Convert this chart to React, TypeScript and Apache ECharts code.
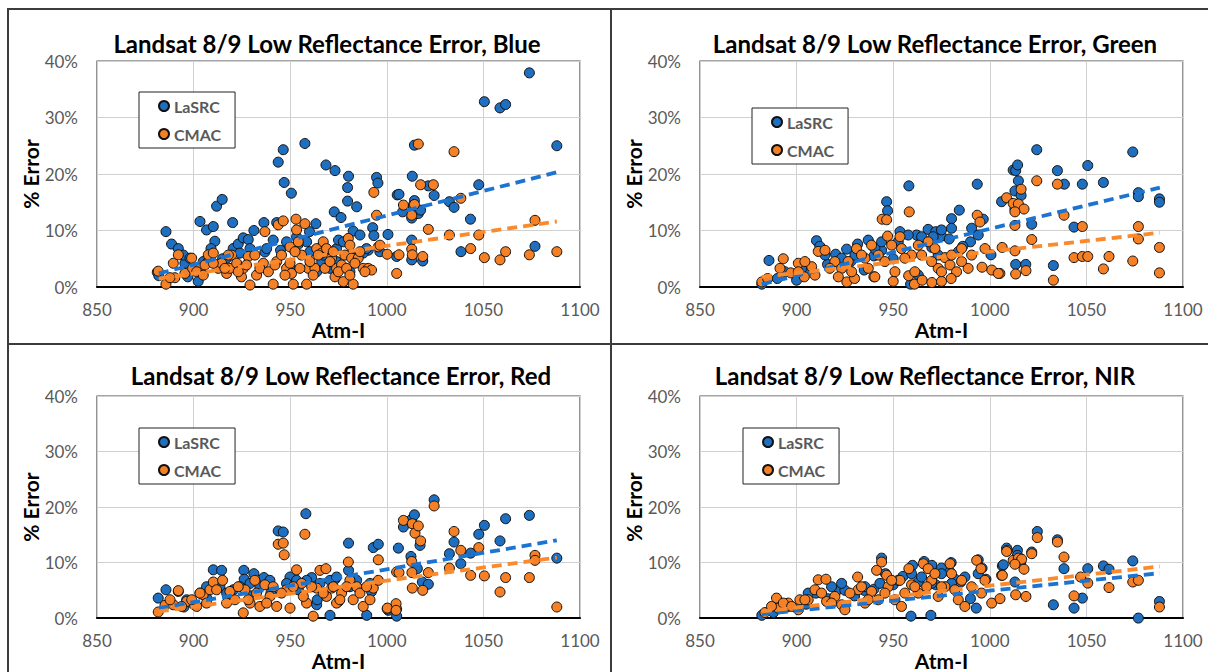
import React, { useEffect, useRef } from "react";
import * as echarts from "echarts";

// ---------- data (x = Atm-I, y = % error) ----------
const xTicks = [850, 900, 950, 1000, 1050, 1100];
const yTicks = [0, 10, 20, 30, 40];

const blueLasrc: number[][] = [
  [881.2,2.6],[882,2],[885.7,9.8],[888.6,7.6],[892.1,6.8],[895.5,4.2],[897,1.8],[902.4,1.0],[903.3,11.6],[906.7,10.1],
  [910.2,10.7],[911,8.1],[909,6.8],[911.9,14.3],[914.8,15.5],[920.2,11.4],[920.5,6.8],[923.1,7.6],[925.7,8.7],[928.3,8.4],
  [931.2,10],[936.4,11.4],[936.9,6.2],[941.2,8.3],[943.8,22.1],[946.4,24.3],[946.9,18.5],[950.6,16.6],[943,11.4],[957.6,25.4],
  [958.5,8.0],[954,7.5],[963.3,11.2],[968.5,21.6],[973.2,20.6],[972.8,13.3],[976.3,12.3],[980.2,19.6],[979.7,17.6],[979.7,15.2],
  [984.4,14.2],[982.6,9.9],[994.7,19.4],[995.4,18.4],[992.7,10.5],[993.3,9.1],[1000.6,9.3],[1005.4,16.3],[996.4,6.25],[990.4,6.5],
  [963.7,2.7],[966.3,4.5],[970.6,3.3],[980.9,2.7],[987.8,6.0],[974,6.8],[915,5.0],[905,4.5],[930,5.8],[945,6.5],
  [950,3.5],[960,9.8],[966,6.8],[975,8.3],[985,5.5],[1006.3,16.4],[1008.2,13.3],[1013.2,19.6],[1014.3,25.1],[1014.3,15.3],
  [1013.8,14.0],[1012.9,12.2],[1016.3,13.0],[1017.5,13.6],[1021.5,17.9],[1024.5,16.2],[1032.4,15.1],[1034.8,14.1],[1043.3,12.0],[1047.6,18.1],
  [1050.5,32.8],[1058.6,31.7],[1061.5,32.3],[1073.8,37.9],[1076.7,7.2],[1088,25.0],[1038.4,6.25],[1012.9,8.3],[1012.9,4.8],[1018.6,4.6],
  [1005.1,5.4],[894.7,5.65],[898.1,5.1],[907.6,4.5],[917.1,5.1],[924,6.0],[929.2,6.8],[937.8,6.8],[948.1,8.0],[951.6,6.8],
  [953.3,8.9],[960.2,6.25],[967.1,5.65],[974,4.5],[977.5,8.0],[980.9,5.65],[986.1,9.2],[989.5,6.8]
];
const blueCmac: number[][] = [
  [881.7,2.8],[885.7,0.5],[890.3,1.65],[889.5,4.2],[892.1,5.7],[895.5,2.4],[899,5.1],[899.5,3.3],[903.3,3.3],[905.9,3.9],
  [907.6,5.7],[910.2,6.0],[912.8,3.3],[914.5,4.2],[917.1,2.4],[918.8,3.3],[919.7,5.65],[922.3,4.2],[924.8,1.8],[925.7,3.3],
  [928.3,5.4],[931.7,5.65],[932.6,2.1],[936.1,4.2],[936.9,9.8],[941.2,0.5],[943,4.5],[943.8,11],[946.4,11.7],[948.1,3.3],
  [949.9,7.1],[950.7,2.4],[951.6,0.5],[953,12],[953.3,10.1],[954.2,8.0],[955.9,5.65],[957.6,11.2],[958.5,0.5],[959.4,3.3],
  [962.8,3.3],[963.7,6.8],[966.3,6.0],[967.1,8.0],[968.8,6.8],[971.4,5.1],[973.2,1.8],[974,3.3],[976.6,3.9],[977.5,0.95],
  [978.3,5.65],[980.1,8.6],[980.9,7.4],[981.8,5.1],[982.6,0.5],[985.2,5.1],[987.8,3.3],[990.4,3.3],[992.1,3.0],[993.3,16.75],
  [994.7,12.7],[995.6,7.1],[1000.2,5.8],[1005.1,2.4],[1016.3,25.3],[1034.8,23.95],[1017.5,18.1],[1024.1,18.1],[1008.6,14.5],[1013.8,14.5],
  [1038.3,15.7],[1021.5,10.2],[1012.9,12.7],[1014.3,14.6],[1032.4,9.2],[1047.6,9.2],[1076.7,11.8],[996.5,7.4],[1006.3,5.7],[1012.9,6.7],
  [1013.2,5.7],[1018.6,5.4],[1043.4,6.8],[1050.5,5.2],[1058.6,4.8],[1061.5,6.25],[1073.8,5.7],[1088,6.25],
  [887.8,1.65],[901.6,2.7],[905,2.1],[910.2,4.2],[916.2,3.3],[918,5.65],[923.1,2.7],[927.4,3.9],[929.2,0.35],[934.3,3.3],
  [938.7,2.7],[942.1,3.9],[945.5,5.65],[947.3,2.1],[949.9,4.2],[952.5,6.25],[955,3.3],[960.2,4.5],[961.9,2.1],[964.5,5.65],
  [968,3.3],[970.6,4.5],[972.3,6.25],[974.9,2.7],[979.2,3.3],[980.9,2.1],[983.5,4.2],[986.1,6.25],[988.7,2.7]
];
const blueLasrcTrend: number[][] = [[882, 2.4], [1088, 20.3]];
const blueCmacTrend: number[][] = [[882, 1.5], [1088, 11.6]];

const greenLasrc: number[][] = [
  [882,0.5],[885.7,4.7],[890,1.5],[900,1.2],[905,3.0],[910.3,8.2],[912,7.2],[916,4.0],[920.2,5.8],[925.9,6.7],
  [928,4.5],[931.6,7.6],[937.1,8.3],[940,5.5],[946.6,15.1],[947.1,13.5],[958.1,17.9],[953.5,9.8],[962.1,9.2],[968.1,10.2],
  [972,9.8],[975,9.0],[980.2,12.1],[979,8.5],[984.2,13.6],[993.5,18.2],[996.6,12],[990,8.0],[1000.6,5.7],[1012.1,20.7],
  [1006.1,15.1],[963,2.1],[959,0.5],[970,7.0],[950,5.0],[935,3.0],[944,6.5],[986,7.2],[1013,17],[1013.4,20.6],
  [1014.4,21.6],[1014.8,18.8],[1016.2,16.2],[1013,13.8],[1024.3,24.3],[1035,20.6],[1038.6,18.2],[1047.9,18.2],[1050.7,21.5],[1058.8,18.5],
  [1074,23.9],[1076.9,16.7],[1076.9,16.0],[1087.8,15.6],[1087.8,15.0],[1021.7,11.1],[1043.6,10.6],[1013.4,4],[1018.6,4],[1032.9,3.8],
  [894,2.7],[902.6,3.3],[914.7,5.65],[923.3,5.1],[930.2,5.65],[940.5,6.8],[944,8.0],[952.6,8.0],[957.8,9.2],[964.7,8.9],
  [970.7,8.9],[975,10.1],[980.2,10.4],[973.3,5.65],[983.7,6.25],[990.6,10.4],[994,9.2]
];
const greenCmac: number[][] = [
  [882,0.9],[885,1.5],[891.4,3.3],[893.1,5.0],[897,2.5],[900.9,4.2],[904,1.8],[907.8,3.6],[911.2,6.3],[914.7,6.5],
  [919.8,4.5],[923.3,3.3],[931,6.8],[935.4,5.1],[938.8,7.4],[942.3,5.65],[944.3,12.0],[946.6,11.9],[947.1,9.0],[949.2,7.4],
  [953.5,8.9],[954.3,6.8],[958.3,13.3],[959.5,5.65],[963,7.4],[968.1,8.0],[973.3,3.3],[976.8,5.2],[979.4,3.9],[982.8,2.7],
  [985.4,6.8],[988.8,3.3],[993.5,12.7],[994.9,11.5],[997.5,6.8],[1001,3],[1005.2,2.4],[1006.4,7],[1008.7,15.8],[1012.1,14.8],
  [1016.2,17.3],[1014.8,14.7],[1017.7,13.8],[1013,13.3],[1024.3,18.8],[1035,18.2],[1038.4,12.7],[1047.9,10.7],[1076.9,10.7],[1076.9,8.5],
  [1013,10.9],[1021.7,8.4],[1013,6.4],[1043.6,5.2],[1047.9,5.4],[1050.7,5.4],[1061.7,5.4],[1058.8,3.2],[1074,4.6],[1087.8,7],
  [1087.8,2.5],[1013.4,2.3],[1018.7,2.9],[1032.9,1.2],[1004.4,2.4],[926,0.9],[930,1.5],[940,1.8],[950,1.0],[961,0.5],
  [965,1.2],[970,0.8],[975,1.0],[980,1.5],[958,2.0],[996,3.5],
  [900.9,2.7],[904.3,4.5],[909.5,2.1],[917.2,3.3],[921.6,1.8],[926.7,4.5],[928.5,2.7],[933.6,5.65],[937.1,3.3],[940.5,1.8],
  [945.7,4.5],[950.9,2.7],[956,5.1],[961.2,2.7],[964.7,5.65],[969.9,4.5],[971.6,6.8],[975,2.7],[980.2,5.65],[985.4,4.5],[990.6,5.65]
];
const greenLasrcTrend: number[][] = [[882, 0.5], [1088, 17.6]];
const greenCmacTrend: number[][] = [[882, 1.8], [1088, 9.6]];

const redLasrc: number[][] = [
  [881.7,3.6],[885.7,5.1],[892.1,4.8],[903.3,4.5],[910.2,8.7],[914.5,8.6],[913.6,5.65],[920.5,5.1],[926,8.6],[926.2,7.0],
  [931.2,8.0],[936.4,7.3],[943.8,15.7],[946.4,15.5],[958.1,18.8],[949.9,7.4],[954.2,5.1],[961.1,7.3],[963.7,2.4],[970.6,0.5],
  [973.2,7.0],[980.2,13.5],[980.2,8.6],[989.6,0.5],[992.1,4.8],[993,12.7],[995.6,13.3],[1006,12.6],[964,3.3],[900,2.5],
  [918,3.5],[930,4.0],[940,4.5],[952,6.0],[975,3.0],[985,5.5],[895,2.0],[907,3.5],[1008.6,16.4],[1012.9,17.8],
  [1014.3,18.6],[1017.2,13.1],[1012.5,11.1],[1015.8,8.9],[1018.4,6.5],[1021.5,6.1],[1024.5,21.3],[1032.4,11.6],[1034.8,13.7],[1038.3,9.8],
  [1043.4,11.7],[1047.6,15.1],[1050.5,16.7],[1058.6,13.9],[1061.5,17.9],[1073.8,18.5],[1088,10.8],[1000.8,1.4],[1005.1,0.35],
  [896.4,3.3],[906.7,5.65],[917.1,4.5],[924,5.65],[929.2,6.25],[934.3,5.65],[939.5,6.8],[948.1,6.25],[953.3,6.8],[958.5,6.8],
  [965.4,6.25],[970.6,6.8],[974,7.4],[980.9,5.65],[984.4,6.8],[991.3,6.25]
];
const redCmac: number[][] = [
  [881.7,1.1],[885.2,2.3],[889.5,2.4],[892.1,4.95],[896.4,3.0],[901.6,2.1],[905,4.2],[908.5,5.1],[910.2,6.5],[911.9,5.1],
  [915,6.8],[917.1,2.7],[921.4,3.3],[925.7,0.95],[926.6,5.1],[929.2,2.7],[931.7,6.8],[934.3,2.1],[936.9,6.0],[939.5,3.9],
  [941.2,5.65],[943,2.1],[943.8,13.3],[946.4,13.5],[946.9,11.4],[948.1,5.1],[949.9,1.8],[953.3,8.7],[955.9,6.25],[957.6,15.1],
  [958.5,2.7],[961.9,0.35],[963.7,5.4],[965.4,8.6],[968.5,8.9],[968.8,3.9],[971.4,5.4],[974,2.7],[976.6,4.5],[980.1,10.1],
  [980.9,6.8],[982.6,3.3],[984.4,5.65],[987.8,2.1],[991.3,3.3],[993,5.4],[995.6,10.5],[995.6,6.8],[1000.2,1.65],[1005.1,1.65],
  [1005.1,8.3],[1008.6,17.6],[1013.2,17.0],[1014.6,15.3],[1016.3,16.6],[1017.5,13.9],[1024.5,20.2],[1012.9,10.2],[1006.3,8.2],[1013,8.2],
  [1013.2,5.4],[1018.6,5.0],[1021.5,8.2],[1032.4,9],[1034.8,15.6],[1038.3,12.2],[1043.4,7.7],[1047.6,12.7],[1050.5,7.6],[1058.6,4.7],
  [1061.5,7.3],[1073.8,7.3],[1076.7,11.3],[1076.7,10.4],[1088,2.0],[1000.3,1.8],[1004.8,2.6],[1004.8,1.4],
  [887.8,3.3],[893.8,2.1],[899,3.3],[903.3,4.5],[906.7,2.7],[918.8,4.8],[923.1,5.65],[928.3,3.3],[932.6,4.5],[937.8,2.7],
  [945.5,4.5],[951.6,5.65],[956.8,3.9],[961.1,5.65],[967.1,4.5],[972.3,5.65],[975.7,3.3],[979.2,5.65],[986.1,4.5],[989.5,5.65]
];
const redLasrcTrend: number[][] = [[882, 1.8], [1088, 14.0]];
const redCmacTrend: number[][] = [[882, 1.2], [1088, 10.9]];

const nirLasrc: number[][] = [
  [882,0.5],[888,1.0],[895,2.0],[905,2.5],[910,4.5],[916,3.5],[921,5.0],[925,5.0],[930,4.0],[935,5.0],
  [940,5.2],[944,10.8],[946,8.0],[950,6.0],[955,7.5],[959.2,0.35],[960,9.5],[963,6.5],[966,10.2],[969.5,0.5],
  [970,9.5],[972,6.0],[975,9.0],[979.4,8.3],[980,10.0],[982,7.0],[985,6.5],[990,3.5],[993,1.8],[994,10.5],
  [996,9.0],[998,7.0],[1024.6,15.6],[1035,14.1],[1008.7,12.6],[1014.3,12.2],[1014.3,11.3],[1021.7,11.9],[1006.5,9.4],[1013,6.5],
  [1038.4,8.9],[1050.7,8.9],[1058.8,9.4],[1061.7,8.8],[1074,10.3],[1087.8,3],[1032.9,2.4],[1043.6,1.8],[1047.9,3.6],[1076.9,0],
  [1007,9.6],[1016,10.0],
  [894,2.1],[906,4.5],[918.1,5.65],[923.3,6.25],[935.4,5.65],[943.1,6.25],[952.6,6.8],[959.5,8.0],[964.7,7.4],[969.9,6.25],
  [975,8.0],[980.2,6.25],[987.1,7.4],[994,8.0]
];
const nirCmac: number[][] = [
  [883.6,1.0],[889.6,3.6],[890.5,1.8],[895.7,2.7],[900.9,1.5],[901.7,3.3],[906,3.3],[911.2,6.9],[915.2,7.0],[909.5,5.1],
  [915.5,3.0],[919.8,3.9],[923.3,2.4],[925,1.5],[931.6,7.4],[931.9,5.1],[935.4,2.7],[938.8,4.8],[942.3,3.3],[944,10.1],
  [941.4,8.6],[946.6,7.7],[947.4,5.65],[950.9,3.3],[953.5,6.8],[954.3,2.1],[958.1,8.9],[959.5,6.0],[963,4.5],[965.6,9.8],
  [968.1,8.9],[969.9,6.8],[973.3,3.9],[976.8,5.65],[979.4,9.8],[980.2,8.0],[983.7,3.3],[987.1,2.1],[993.2,10.4],[995.4,8.9],
  [997.5,6.8],[1001,2.7],[1006.1,7.7],[1009,12.2],[1012.1,10.4],[1024.6,14.5],[1035,13.7],[1008.7,12.0],[1014.8,10.8],[1016.5,10.6],
  [1021.7,11.6],[1013,9.7],[1017.7,8.8],[1038.4,11.0],[1006.5,7.7],[1013.4,4.2],[1018.7,3.9],[1043.6,4.0],[1050.7,6.3],[1061.7,5.5],
  [1074,6.5],[1076.9,6.8],[1087.8,2.0],[1005.3,3.5],[1047,7.4],
  [887,2.1],[893.1,2.7],[897.4,2.1],[904.3,3.3],[912.9,4.5],[918.1,2.7],[927.6,4.5],[933.6,5.65],[937.1,3.3],[945.7,4.5],
  [949.2,6.8],[956,4.5],[961.2,5.65],[967.3,5.65],[971.6,8.0],[975,5.65],[981.9,5.1],[985.4,6.8],[990.6,5.65],[995.7,4.5]
];
const nirLasrcTrend: number[][] = [[882, 0.7], [1088, 8.1]];
const nirCmacTrend: number[][] = [[882, 1.2], [1088, 9.3]];

const bandNames = ["Blue", "Green", "Red", "NIR"];
const seriesNames = ["LaSRC", "CMAC"];

// ---------- layout ----------
const FONT = "Lato";
const BLUE = "#1f6fc0";
const ORANGE = "#f58025";
const BLUE_LINE = "#1c74d0";
const ORANGE_LINE = "#fb8a2c";

const panels = [
  { band: bandNames[0], lasrc: blueLasrc, cmac: blueCmac, lt: blueLasrcTrend, ct: blueCmacTrend,
    gx: 97, gy: 61, tx: 327, ty: 43, lx: 139, ly: 92 },
  { band: bandNames[1], lasrc: greenLasrc, cmac: greenCmac, lt: greenLasrcTrend, ct: greenCmacTrend,
    gx: 700, gy: 61, tx: 935, ty: 43, lx: 752, ly: 108 },
  { band: bandNames[2], lasrc: redLasrc, cmac: redCmac, lt: redLasrcTrend, ct: redCmacTrend,
    gx: 97, gy: 396, tx: 341, ty: 375, lx: 139, ly: 428 },
  { band: bandNames[3], lasrc: nirLasrc, cmac: nirCmac, lt: nirLasrcTrend, ct: nirCmacTrend,
    gx: 700, gy: 396, tx: 925, ty: 375, lx: 743, ly: 428 },
];

const GW = 483;
const GH = 226;

function buildOption() {
  const grid: any[] = [];
  const xAxis: any[] = [];
  const yAxis: any[] = [];
  const series: any[] = [];
  const legend: any[] = [];
  const graphic: any[] = [];

  // cell borders
  const lineStyle = { stroke: "#3c3c3c", lineWidth: 2 };
  graphic.push(
    { type: "line", shape: { x1: 8, y1: 9, x2: 1208, y2: 9 }, style: lineStyle, silent: true },
    { type: "line", shape: { x1: 8, y1: 344, x2: 1208, y2: 344 }, style: lineStyle, silent: true },
    { type: "line", shape: { x1: 8, y1: 8, x2: 8, y2: 672 }, style: lineStyle, silent: true },
    { type: "line", shape: { x1: 611, y1: 8, x2: 611, y2: 672 }, style: lineStyle, silent: true }
  );

  panels.forEach((p, i) => {
    grid.push({
      left: p.gx, top: p.gy, width: GW, height: GH,
      show: true, borderColor: "#4d4d4d", borderWidth: 1.2, backgroundColor: "#fff",
    });
    xAxis.push({
      type: "value", gridIndex: i, min: xTicks[0], max: xTicks[xTicks.length - 1], interval: 50,
      name: "Atm-I", nameLocation: "middle", nameGap: 27,
      nameTextStyle: { fontFamily: FONT, fontWeight: "bold", fontSize: 21, color: "#000" },
      axisLine: { show: true, onZero: false, lineStyle: { color: "#000", width: 2 } },
      axisTick: { show: false },
      axisLabel: { fontFamily: FONT, fontSize: 17, color: "#595959", margin: 14, formatter: (v: number) => String(v) },
      splitLine: { show: true, lineStyle: { color: "#d0d0d0", width: 1 } },
    });
    yAxis.push({
      type: "value", gridIndex: i, min: yTicks[0], max: yTicks[yTicks.length - 1], interval: 10,
      name: "% Error", nameLocation: "middle", nameGap: 56, nameRotate: 90,
      nameTextStyle: { fontFamily: FONT, fontWeight: "bold", fontSize: 21, color: "#000" },
      axisLine: { show: false },
      axisTick: { show: false },
      axisLabel: { fontFamily: FONT, fontSize: 17, color: "#595959", margin: 19, formatter: "{value}%" },
      splitLine: { show: true, lineStyle: { color: "#d0d0d0", width: 1 } },
    });
    series.push(
      {
        name: seriesNames[0], type: "scatter", xAxisIndex: i, yAxisIndex: i, data: p.lasrc,
        symbol: "circle", symbolSize: 10, z: 2,
        itemStyle: { color: BLUE, borderColor: "#111", borderWidth: 1, opacity: 1 },
      },
      {
        name: seriesNames[1], type: "scatter", xAxisIndex: i, yAxisIndex: i, data: p.cmac,
        symbol: "circle", symbolSize: 10, z: 3,
        itemStyle: { color: ORANGE, borderColor: "#111", borderWidth: 1, opacity: 1 },
      },
      {
        name: "LaSRC trend", type: "line", xAxisIndex: i, yAxisIndex: i, data: p.lt,
        symbol: "none", z: 4, silent: true,
        lineStyle: { color: BLUE_LINE, width: 3.8, type: [10, 6] },
      },
      {
        name: "CMAC trend", type: "line", xAxisIndex: i, yAxisIndex: i, data: p.ct,
        symbol: "none", z: 4, silent: true,
        lineStyle: { color: ORANGE_LINE, width: 3.8, type: [10, 6] },
      }
    );
    legend.push({
      data: seriesNames, orient: "vertical", left: p.lx, top: p.ly,
      padding: [5, 14, 5, 19], itemGap: 10, itemWidth: 10, itemHeight: 10, icon: "circle",
      borderColor: "#222", borderWidth: 1, backgroundColor: "#fff",
      textStyle: { fontFamily: FONT, fontWeight: "bold", fontSize: 16, color: "#595959", lineHeight: 18 },
      selectedMode: false,
    });
    graphic.push({
      type: "text", x: p.tx, y: p.ty, silent: true,
      style: {
        text: `Landsat 8/9 Low Reflectance Error, ${p.band}`,
        font: `bold 24px ${FONT}`, fill: "#000", align: "center", verticalAlign: "middle",
      },
    });
  });

  return {
    animation: false,
    backgroundColor: "#fff",
    grid, xAxis, yAxis, series, legend, graphic,
  };
}

export default function App() {
  const ref = useRef<HTMLDivElement>(null);
  useEffect(() => {
    if (!ref.current) return;
    const chart = echarts.init(ref.current, undefined, { renderer: "svg" });
    chart.setOption(buildOption() as any);
    return () => chart.dispose();
  }, []);
  return (
    <div
      ref={ref}
      style={{ position: "absolute", left: 0, top: 0, width: 1208, height: 672, background: "#fff" }}
    />
  );
}
